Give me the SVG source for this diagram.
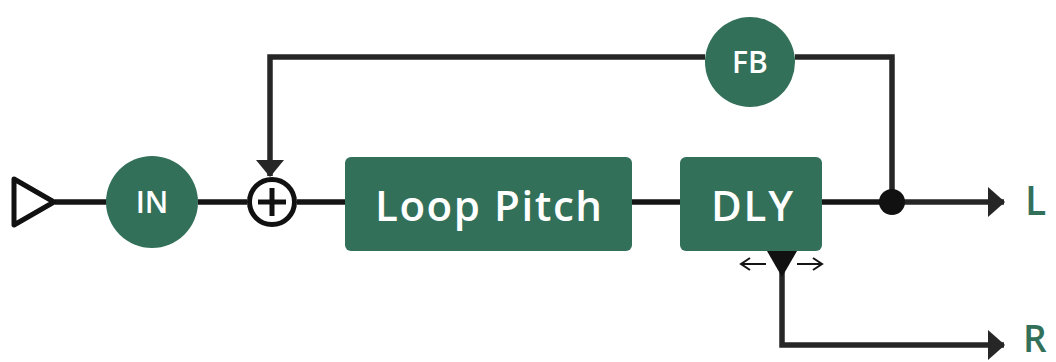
<svg xmlns="http://www.w3.org/2000/svg" width="1056" height="362" viewBox="0 0 1056 362">
<style>
.ln{fill:none;stroke:#151515;stroke-width:5.5;}
.fb{fill:none;stroke:#262626;stroke-width:5.5;}
.node{fill:#33705a;}
.wt{fill:#ffffff;font-family:"Open Sans","Liberation Sans",sans-serif;font-weight:600;text-anchor:middle;}
.lbl{fill:#33705a;font-family:"Open Sans","Liberation Sans",sans-serif;font-weight:600;}
.thin{fill:none;stroke:#151515;stroke-width:2;}
</style>
<defs>
<marker id="ah" markerUnits="userSpaceOnUse" markerWidth="18" markerHeight="30" refX="16" refY="15" orient="auto">
<path d="M0,0 L17,15 L0,30 Z" fill="#262626"/>
</marker>
<marker id="ahd" markerUnits="userSpaceOnUse" markerWidth="18" markerHeight="28" refX="16" refY="14" orient="auto">
<path d="M0,0 L17,14 L0,28 Z" fill="#262626"/>
</marker>
<marker id="sm" markerUnits="userSpaceOnUse" markerWidth="12" markerHeight="14" refX="10" refY="7" orient="auto">
<path d="M1,1 L10,7 L1,13" fill="none" stroke="#151515" stroke-width="2"/>
</marker>
</defs>
<g id="connectors">
<path class="ln" d="M55,202 H107"/>
<path class="ln" d="M198,202 H247"/>
<path class="ln" d="M297,202 H345"/>
<path class="ln" d="M632,202 H680"/>
<path class="ln" d="M822,202 H892"/>
<path class="fb" d="M892,202 H1004" marker-end="url(#ah)"/>
<path class="fb" d="M892,202 V57 H795"/>
<path class="fb" d="M705,57 H270 V176" marker-end="url(#ahd)"/>
<path class="fb" d="M782,272 V345 H1004" marker-end="url(#ah)"/>
<path class="thin" d="M766,264 H741" marker-end="url(#sm)"/>
<path class="thin" d="M797,264 H822" marker-end="url(#sm)"/>
</g>
<g id="input">
<path d="M14,179 L54,202 L14,225 Z" fill="#fff" stroke="#111" stroke-width="5" stroke-linejoin="round"/>
</g>
<g id="in">
<circle class="node" cx="152" cy="202" r="46"/>
<text class="wt" x="152" y="213" font-size="30">IN</text>
</g>
<g id="sum">
<circle cx="272" cy="202" r="22.5" fill="#fff" stroke="#111" stroke-width="5"/>
<path d="M258,202 H286 M272,188 V216" stroke="#111" stroke-width="5"/>
</g>
<g id="loop-pitch">
<rect class="node" x="345" y="157" width="287" height="94" rx="6"/>
<text class="wt" x="488.5" y="221" font-size="42" textLength="227" lengthAdjust="spacing">Loop Pitch</text>
</g>
<g id="dly">
<rect class="node" x="680" y="157" width="142" height="94" rx="6"/>
<text class="wt" x="752" y="221" font-size="42" textLength="82" lengthAdjust="spacing">DLY</text>
</g>
<g id="fb">
<circle class="node" cx="750" cy="62" r="45"/>
<text class="wt" x="750" y="73" font-size="30">FB</text>
</g>
<g id="dot">
<circle cx="892" cy="202" r="13" fill="#111"/>
</g>
<g id="tap">
<path d="M767,251 L797,251 L782,277 Z" fill="#111"/>
</g>
<g id="out-l">
<text class="lbl" x="1025" y="215" font-size="39">L</text>
</g>
<g id="out-r">
<text class="lbl" x="1023" y="352" font-size="37">R</text>
</g>
</svg>
